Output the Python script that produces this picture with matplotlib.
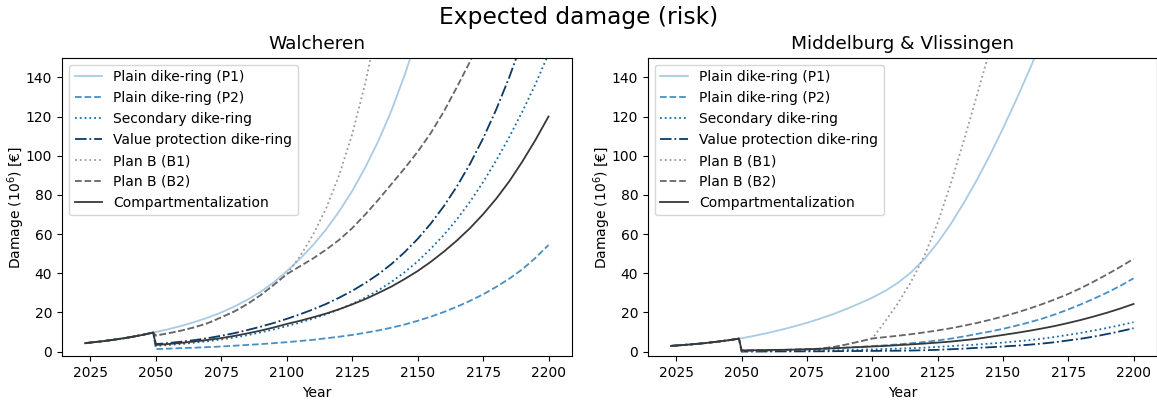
from matplotlib import pyplot as plt

# years: shared history up to 2049, strategies from 2050 on
years_pre = [2023, 2025, 2030, 2035, 2040, 2045, 2049]
years = list(range(2050, 2201, 5))

labels = ['Plain dike-ring (P1)', 'Plain dike-ring (P2)', 'Secondary dike-ring',
          'Value protection dike-ring', 'Plan B (B1)', 'Plan B (B2)',
          'Compartmentalization']

# Walcheren (series that leave the plot stop one step above 150)
pre_wal = [4.3, 4.6, 5.35, 6.25, 7.3, 8.55, 9.7]
p1_wal = [10.0, 11.5, 13.2, 15.2, 17.4, 20.0, 23.0, 26.5, 30.5, 35.3, 41.0, 47.3, 54.3, 62.3,
          71.5, 82.0, 94.0, 107.5, 123.0, 141.0, 161.0]
p2_wal = [1.3, 1.5, 1.8, 2.0, 2.3, 2.6, 3.0, 3.4, 3.8, 4.3, 4.8, 5.4, 6.0, 6.8, 7.6, 8.5, 9.6,
          10.8, 12.2, 13.8, 15.7, 17.8, 20.2, 22.9, 25.9, 29.2, 33.0, 37.2, 42.0, 47.8, 54.4]
sec_wal = [2.9, 3.4, 3.9, 4.6, 5.3, 6.2, 7.2, 8.4, 9.8, 11.3, 13.0, 14.8, 16.8, 19.0, 21.5, 24.3,
           27.6, 31.3, 35.6, 40.5, 46.0, 52.5, 59.5, 67.5, 76.5, 86.5, 97.5, 109.5, 122.5, 136.5, 152.0]
vp_wal = [3.8, 4.4, 5.1, 5.9, 6.9, 8.1, 9.4, 11.0, 12.7, 14.6, 16.7, 19.0, 21.5, 24.3, 27.5, 31.0,
          35.0, 39.5, 44.7, 50.7, 57.5, 65.3, 74.2, 84.3, 95.8, 108.8, 123.5, 140.0, 158.5]
b1_wal = [8.2, 9.4, 10.8, 12.5, 14.6, 17.5, 20.5, 24.3, 28.8, 34.0, 39.5, 48.5, 59.5, 73.0,
          90.0, 111.0, 137.0, 168.0]
b2_wal = [8.2, 9.4, 10.8, 12.5, 14.6, 17.5, 20.5, 24.3, 28.8, 34.0, 39.5, 43.5, 47.5, 52.0,
          57.0, 63.0, 70.0, 77.5, 85.5, 93.5, 102.0, 111.5, 122.5, 135.0, 148.0, 162.0]
comp_wal = [3.4, 3.9, 4.5, 5.2, 6.0, 6.9, 8.0, 9.3, 10.7, 12.3, 14.1, 15.7, 17.5, 19.4, 21.6, 24.1,
            26.8, 29.9, 33.2, 37.0, 41.1, 45.8, 51.0, 56.7, 63.0, 70.1, 78.0, 86.9, 97.0, 108.0, 120.0]

# Middelburg & Vlissingen
pre_mv = [2.9, 3.1, 3.6, 4.2, 4.95, 5.8, 6.6]
p1_mv = [6.8, 8.1, 9.5, 11.1, 12.8, 14.7, 16.8, 19.1, 21.7, 24.5, 27.5, 31.0, 35.3, 40.6, 47.3,
         55.5, 65.0, 75.8, 87.5, 100.2, 113.8, 128.2, 143.3, 159.0]
p2_mv = [0.4, 0.5, 0.6, 0.75, 0.9, 1.1, 1.3, 1.6, 2.0, 2.4, 2.8, 3.2, 3.7, 4.3, 4.9, 5.7, 6.6,
         7.7, 9.0, 10.2, 11.6, 13.2, 14.9, 16.8, 19.0, 21.5, 24.2, 27.1, 30.2, 33.6, 37.4]
sec_mv = [0.2, 0.22, 0.25, 0.3, 0.35, 0.42, 0.5, 0.65, 0.8, 0.95, 1.1, 1.3, 1.5, 1.75, 2.0, 2.4,
          2.8, 3.2, 3.6, 4.1, 4.6, 5.2, 5.8, 6.6, 7.5, 8.5, 9.6, 10.8, 12.1, 13.5, 15.0]
vp_mv = [0.0, 0.02, 0.05, 0.08, 0.1, 0.12, 0.15, 0.2, 0.25, 0.3, 0.35, 0.4, 0.45, 0.55, 0.7, 0.9,
         1.2, 1.5, 1.9, 2.2, 2.6, 3.0, 3.5, 4.1, 4.8, 5.7, 6.6, 7.7, 9.0, 10.4, 11.9]
b1_mv = [0.5, 0.6, 0.7, 0.85, 1.0, 1.2, 1.5, 2.3, 3.6, 5.1, 6.7, 15.5, 25.0, 36.0, 49.0, 65.5,
         85.5, 107.5, 130.5, 154.0]
b2_mv = [0.5, 0.6, 0.7, 0.85, 1.0, 1.2, 1.5, 2.3, 3.6, 5.1, 6.7, 7.4, 8.1, 8.9, 9.8, 10.8, 11.9,
         13.2, 14.6, 16.2, 17.9, 19.8, 21.9, 24.2, 26.7, 29.4, 32.5, 35.9, 39.5, 43.3, 47.3]
comp_mv = [0.6, 0.7, 0.8, 0.9, 1.0, 1.2, 1.4, 1.7, 2.0, 2.3, 2.6, 2.9, 3.3, 3.7, 4.1, 4.6, 5.1,
           5.8, 6.5, 7.5, 8.5, 9.5, 10.6, 11.8, 13.1, 14.6, 16.2, 18.0, 19.9, 22.0, 24.3]

styles = [('#a9cbe3', '-'), ('#4a8fc2', '--'), ('#1a6aa8', ':'), ('#0b3a66', '-.'),
          ('#9a9a9a', ':'), ('#666666', '--'), ('#383838', '-')]

panels = [('Walcheren', pre_wal, [p1_wal, p2_wal, sec_wal, vp_wal, b1_wal, b2_wal, comp_wal]),
          ('Middelburg & Vlissingen', pre_mv, [p1_mv, p2_mv, sec_mv, vp_mv, b1_mv, b2_mv, comp_mv])]

fig = plt.figure(figsize=(11.57, 4.01), dpi=100)
boxes = [[0.0536, 0.111, 0.4405, 0.745], [0.560, 0.111, 0.4397, 0.745]]

for box, (title, pre, series) in zip(boxes, panels):
    ax = fig.add_axes(box)
    for i, s in enumerate(series):
        col, ls = styles[i]
        ax.plot(years_pre + years[:len(s)], pre + s, color=col, linestyle=ls, lw=1.3, label=labels[i])
    ax.set_xlim(2014.15, 2208.85)
    ax.set_ylim(-2.5, 150)
    ax.set_xticks([2025, 2050, 2075, 2100, 2125, 2150, 2175, 2200])
    ax.set_yticks(range(0, 141, 20))
    ax.set_title(title, fontsize=13.3)
    ax.set_xlabel('Year', fontsize=10)
    ax.set_ylabel('Damage (10$^6$) [€]', fontsize=10, labelpad=-1)
    ax.legend(loc='upper left', fontsize=10)

fig.suptitle('Expected damage (risk)', fontsize=16.8, y=0.985)
plt.savefig('out.png', dpi=100)
